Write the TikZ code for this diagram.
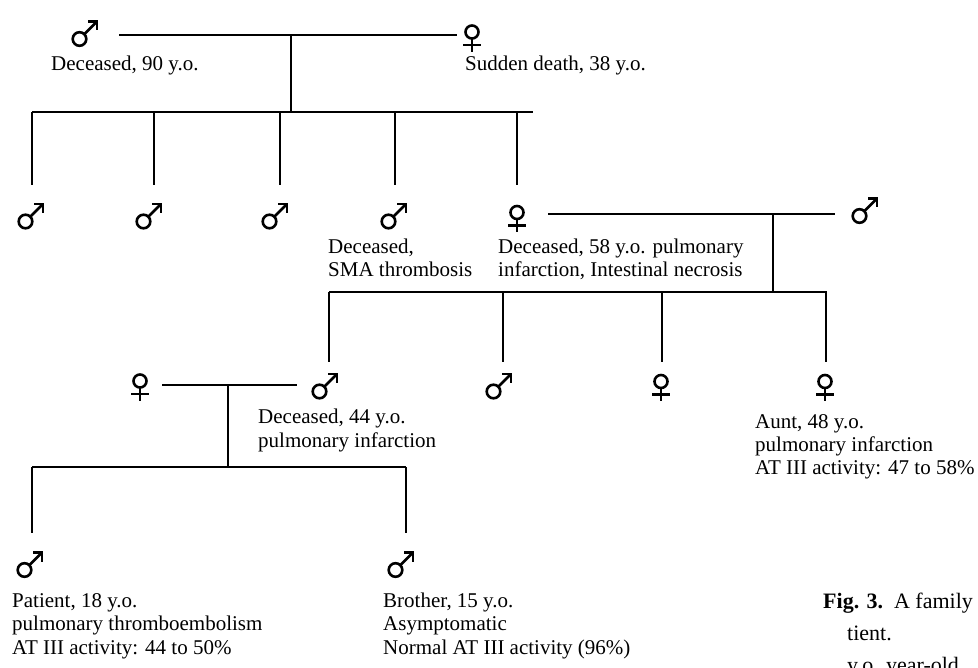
\documentclass[tikz,border=0pt]{standalone}
\usepackage{fontspec}
\setmainfont{Liberation Serif}
\tikzset{
  lbl/.style={anchor=base west, inner sep=0, align=left, font=\fontsize{21}{23.5}\selectfont},
  captxt/.style={anchor=base west, inner sep=0, font=\fontsize{22}{32}\selectfont},
  link/.style={line width=1.1pt},
  sym/.style={line width=2.6pt},
  malesym/.pic={
    \draw[sym] (-5.5,5) circle[radius=6.8];
    \draw[sym] (-0.7,0.2) -- (12,-12.5);
    \draw[sym, miter limit=10] (3,-12.5) -- (12,-12.5) -- (12,-3.5);
  },
  femsym/.pic={
    \draw[sym] (0,-6) circle[radius=6.5];
    \draw[sym] (0,0.5) -- (0,14);
    \draw[sym] (-9,7) -- (9,7);
  }
}
\begin{document}
\begin{tikzpicture}[x=1pt,y=-1pt]
\useasboundingbox (0,0) rectangle (978,668);
\clip (0,0) rectangle (978,668);

% ---------- persons ----------
\coordinate (M1) at (85,34);   \pic at (M1) {malesym};
\coordinate (F1) at (472,38);  \pic at (F1) {femsym};

\coordinate (S1) at (31,216.5);  \pic at (S1) {malesym};
\coordinate (S2) at (149,216.5); \pic at (S2) {malesym};
\coordinate (S3) at (275,216.5); \pic at (S3) {malesym};
\coordinate (S4) at (394,216.5); \pic at (S4) {malesym};
\coordinate (F2) at (517,218.5); \pic at (F2) {femsym};
\coordinate (M2) at (865,211);   \pic at (M2) {malesym};

\coordinate (F3) at (140,387);   \pic at (F3) {femsym};
\coordinate (C1) at (325,386.5); \pic at (C1) {malesym};
\coordinate (C2) at (499,386.5); \pic at (C2) {malesym};
\coordinate (C3) at (661,387.5); \pic at (C3) {femsym};
\coordinate (C4) at (825,387.5); \pic at (C4) {femsym};

\coordinate (P1) at (30,565);  \pic at (P1) {malesym};
\coordinate (P2) at (401,565); \pic at (P2) {malesym};

% ---------- junction points ----------
\coordinate (m1a) at (119,35);  \coordinate (m1b) at (457,35);
\coordinate (d1)  at (291,35);  \coordinate (s1)  at (291,112);
\coordinate (sl1a) at (32,112); \coordinate (sl1b) at (533,112);
\coordinate (v11) at (32,112);  \coordinate (v12) at (154,112);
\coordinate (v13) at (280,112); \coordinate (v14) at (395,112);
\coordinate (v15) at (517,112);

\coordinate (m2a) at (548,214); \coordinate (m2b) at (835,214);
\coordinate (d2)  at (773,214); \coordinate (s2)  at (773,292);
\coordinate (sl2a) at (329,292); \coordinate (sl2b) at (827,292);
\coordinate (v21) at (329,292); \coordinate (v22) at (503,292);
\coordinate (v23) at (662,292); \coordinate (v24) at (826,292);

\coordinate (m3a) at (162,385); \coordinate (m3b) at (297,385);
\coordinate (d3)  at (228,385); \coordinate (s3)  at (228,467);
\coordinate (sl3a) at (32,467); \coordinate (sl3b) at (406,467);
\coordinate (v31) at (32,467);  \coordinate (v32) at (406,467);

% ---------- connectors ----------
\draw[link] (m1a) -- (m1b);
\draw[link] (d1) -- (s1);
\draw[link] (sl1a) -- (sl1b);
\foreach \v in {v11,v12,v13,v14,v15} \draw[link] (\v) -- ++(0,73);

\draw[link] (m2a) -- (m2b);
\draw[link] (d2) -- (s2);
\draw[link] (sl2a) -- (sl2b);
\foreach \v in {v21,v22,v23,v24} \draw[link] (\v) -- ++(0,70);

\draw[link] (m3a) -- (m3b);
\draw[link] (d3) -- (s3);
\draw[link] (sl3a) -- (sl3b);
\foreach \v in {v31,v32} \draw[link] (\v) -- ++(0,66);

% ---------- labels (anchor = baseline of the last line) ----------
\node[lbl] (tM1) at (51,71) {Deceased, 90 y.o.};
\node[lbl] (tF1) at (465,71) {Sudden death, 38 y.o.};
\node[lbl] (tS4) at (328,277) {Deceased,\\SMA thrombosis};
\node[lbl] (tF2) at (498,277) {Deceased, 58 y.o. pulmonary\\infarction, Intestinal necrosis};
\node[lbl] (tC1) at (258,447) {Deceased, 44 y.o.\\pulmonary infarction};
\node[lbl] (tC4) at (755,475) {Aunt, 48 y.o.\\pulmonary infarction\\AT III activity: 47 to 58\%};
\node[lbl] (tP1) at (12,654) {Patient, 18 y.o.\\pulmonary thromboembolism\\AT III activity: 44 to 50\%};
\node[lbl] (tP2) at (383,654) {Brother, 15 y.o.\\Asymptomatic\\Normal AT III activity (96\%)};

% ---------- caption (cut by the frame, as in the reference) ----------
\node[captxt] (cap1) at (823,608) {\textbf{Fig. 3.}\enspace A family};
\node[captxt] (cap2) at (847,640) {tient.};
\node[captxt] (cap3) at (847,672) {y.o. year-old};
\end{tikzpicture}
\end{document}
